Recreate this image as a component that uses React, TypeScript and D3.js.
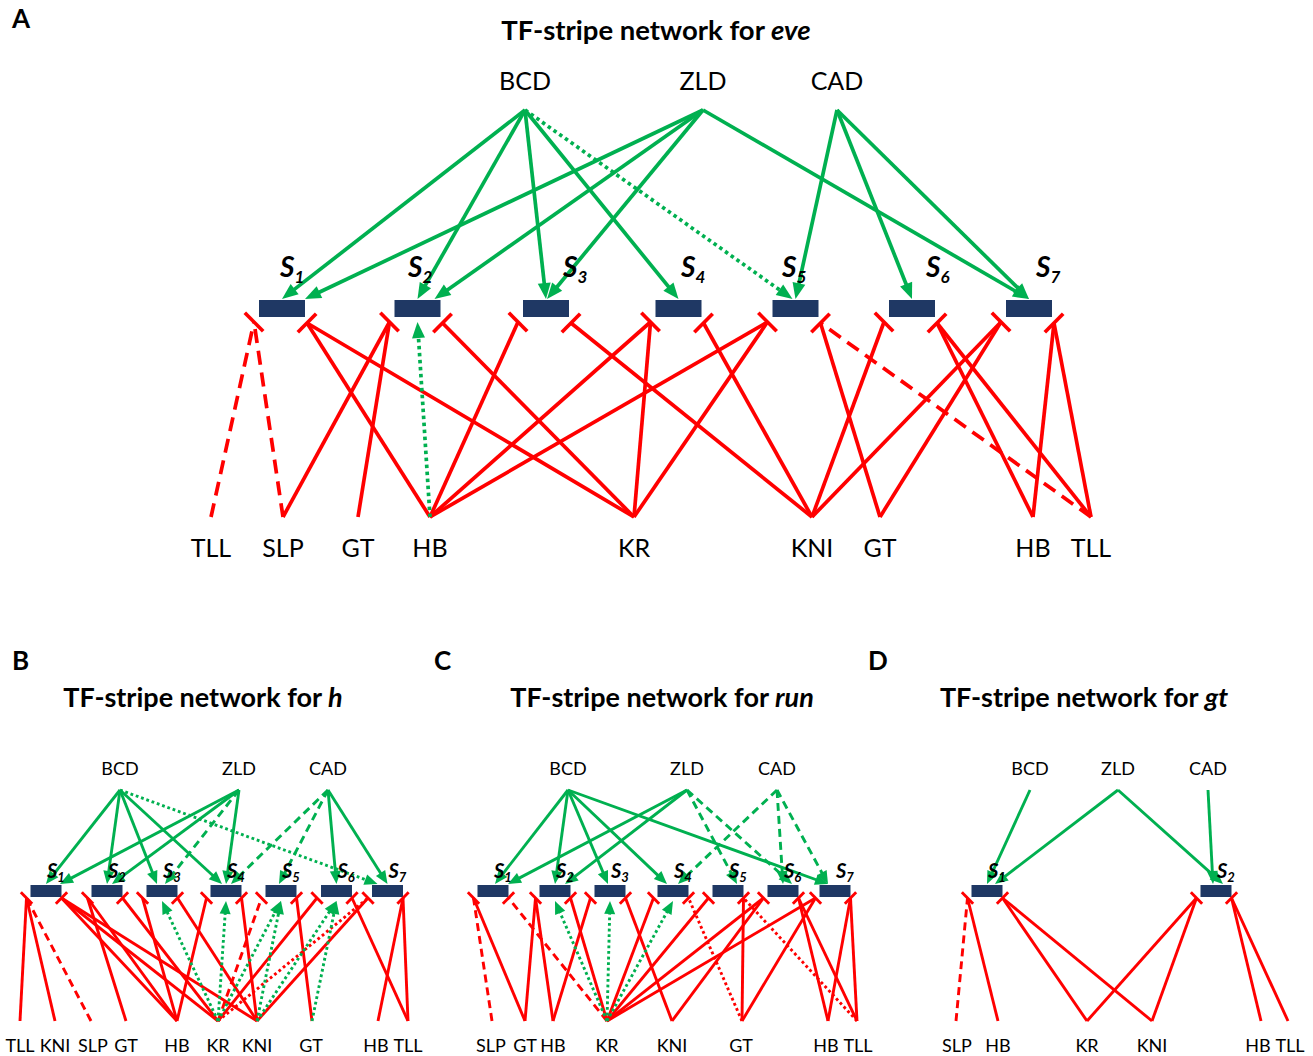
import React from "react";
import * as d3 from "d3";

type Style = "solid" | "dashed" | "dotted";
type Side = "L" | "R";

// ---------- data ----------
const activators = ["BCD", "ZLD", "CAD"];

// A: eve
const eveStripes = [1, 2, 3, 4, 5, 6, 7];
const eveRepressors = ["TLL", "SLP", "GT", "HB", "KR", "KNI", "GT", "HB", "TLL"];
const eveActivation: [string, number, Style][] = [
  ["BCD", 1, "solid"], ["BCD", 2, "solid"], ["BCD", 3, "solid"], ["BCD", 4, "solid"], ["BCD", 5, "dotted"],
  ["ZLD", 1, "solid"], ["ZLD", 2, "solid"], ["ZLD", 3, "solid"], ["ZLD", 7, "solid"],
  ["CAD", 5, "solid"], ["CAD", 6, "solid"], ["CAD", 7, "solid"],
];
// [repressor index, stripe, side of stripe, style]
const eveRepression: [number, number, Side, Style][] = [
  [0, 1, "L", "dashed"], [1, 1, "L", "dashed"], [1, 2, "L", "solid"], [2, 2, "L", "solid"],
  [3, 1, "R", "solid"], [3, 3, "L", "solid"], [3, 4, "L", "solid"], [3, 5, "L", "solid"],
  [4, 1, "R", "solid"], [4, 2, "R", "solid"], [4, 4, "L", "solid"], [4, 5, "L", "solid"],
  [5, 3, "R", "solid"], [5, 4, "R", "solid"], [5, 6, "L", "solid"], [5, 7, "L", "solid"],
  [6, 5, "R", "solid"], [6, 7, "L", "solid"],
  [7, 6, "R", "solid"], [7, 7, "R", "solid"],
  [8, 6, "R", "solid"], [8, 7, "R", "solid"], [8, 5, "R", "dashed"],
];
// green arrows coming from below: [repressor index, stripe, style]
const eveUpActivation: [number, number, Style][] = [[3, 2, "dotted"]];

// B: h
const hStripes = [1, 2, 3, 4, 5, 6, 7];
const hRepressors = ["TLL", "KNI", "SLP", "GT", "HB", "KR", "KNI", "GT", "HB", "TLL"];
const hActivation: [string, number, Style][] = [
  ["BCD", 1, "solid"], ["BCD", 2, "solid"], ["BCD", 3, "solid"], ["BCD", 4, "solid"], ["BCD", 7, "dotted"],
  ["ZLD", 1, "solid"], ["ZLD", 2, "solid"], ["ZLD", 3, "dashed"], ["ZLD", 4, "solid"],
  ["CAD", 4, "dashed"], ["CAD", 5, "dashed"], ["CAD", 6, "solid"], ["CAD", 7, "solid"],
];
const hRepression: [number, number, Side, Style][] = [
  [0, 1, "L", "solid"], [1, 1, "L", "solid"], [2, 1, "L", "dashed"],
  [4, 1, "R", "solid"], [5, 1, "R", "solid"], [6, 1, "R", "solid"],
  [3, 2, "L", "solid"], [4, 2, "L", "solid"], [5, 2, "R", "solid"],
  [4, 3, "L", "solid"], [6, 3, "R", "solid"],
  [4, 4, "L", "solid"], [6, 4, "R", "solid"],
  [5, 5, "L", "dashed"], [7, 5, "R", "solid"],
  [5, 6, "L", "solid"], [9, 6, "R", "solid"],
  [6, 7, "L", "solid"], [5, 7, "L", "dotted"], [8, 7, "R", "solid"], [9, 7, "R", "solid"],
];
const hUpActivation: [number, number, Style][] = [
  [5, 3, "dotted"], [5, 4, "dotted"], [5, 5, "dotted"], [6, 5, "dotted"], [6, 6, "dotted"], [7, 6, "dotted"],
];

// C: run
const runStripes = [1, 2, 3, 4, 5, 6, 7];
const runRepressors = ["SLP", "GT", "HB", "KR", "KNI", "GT", "HB", "TLL"];
const runActivation: [string, number, Style][] = [
  ["BCD", 1, "solid"], ["BCD", 2, "solid"], ["BCD", 3, "solid"], ["BCD", 4, "solid"], ["BCD", 7, "solid"],
  ["ZLD", 1, "solid"], ["ZLD", 2, "solid"], ["ZLD", 5, "dashed"], ["ZLD", 6, "dashed"],
  ["CAD", 4, "dashed"], ["CAD", 6, "dashed"], ["CAD", 7, "dashed"],
];
const runRepression: [number, number, Side, Style][] = [
  [0, 1, "L", "dashed"], [1, 1, "L", "solid"], [3, 1, "R", "dashed"],
  [1, 2, "L", "solid"], [2, 2, "L", "solid"], [3, 2, "R", "solid"],
  [2, 3, "L", "solid"], [4, 3, "R", "solid"],
  [3, 4, "L", "solid"], [5, 4, "R", "dotted"],
  [3, 5, "L", "solid"], [5, 5, "R", "solid"], [7, 5, "R", "dotted"],
  [3, 6, "L", "solid"], [4, 6, "L", "solid"], [6, 6, "R", "solid"], [7, 6, "R", "solid"],
  [3, 7, "L", "solid"], [5, 7, "L", "solid"], [6, 7, "R", "solid"], [7, 7, "R", "solid"],
];
const runUpActivation: [number, number, Style][] = [[3, 2, "dotted"], [3, 3, "dotted"], [3, 4, "dotted"]];

// D: gt
const gtStripes = [1, 2];
const gtRepressors = ["SLP", "HB", "KR", "KNI", "HB", "TLL"];
const gtActivation: [string, number, Style][] = [
  ["BCD", 1, "solid"], ["ZLD", 1, "solid"], ["ZLD", 2, "solid"], ["CAD", 2, "solid"],
];
const gtRepression: [number, number, Side, Style][] = [
  [0, 1, "L", "dashed"], [1, 1, "L", "solid"], [2, 1, "R", "solid"], [3, 1, "R", "solid"],
  [2, 2, "L", "solid"], [3, 2, "L", "solid"], [4, 2, "R", "solid"], [5, 2, "R", "solid"],
];
const gtUpActivation: [number, number, Style][] = [];

// ---------- layout ----------
const big = {
  actY: 110, actLabelY: 90, actFont: 25,
  boxTop: 300, boxW: 46, boxH: 17,
  sY: 277, sFont: 28, subFont: 17, subDy: 6,
  botY: 517, botLabelY: 557, labelFont: 25,
  lw: 3.7, barLen: 26, anchorL: [-5, 5], anchorR: [2, 6],
  arrowLen: 16, arrowW: 13, upGap: 5, dashed: "14 8", dotted: "3.5 3.5",
};
const small = {
  actY: 790, actLabelY: 774.5, actFont: 18,
  boxTop: 885, boxW: 31, boxH: 12,
  sY: 878, sFont: 20, subFont: 13, subDy: 4,
  botY: 1021, botLabelY: 1052, labelFont: 18,
  lw: 2.9, barLen: 16, anchorL: [-4, 1], anchorR: [0, 1],
  arrowLen: 13, arrowW: 11, upGap: 4, dashed: "8 5", dotted: "2.8 2.8",
};

const panels = [
  {
    letter: "A", letterX: 12, letterY: 28, title: "TF-stripe network for ", gene: "eve", titleX: 656, titleY: 40, titleFont: 27.5,
    g: big, actX: [525, 703, 837],
    stripeX: [282, 417.5, 546, 678.5, 795.5, 912, 1029], sDx: [-2, -9.5, 17, 2.5, -13.5, 14, 7],
    botX: [211, 283, 358, 430, 634, 812, 880, 1033, 1091],
    botLabelX: [211, 283, 358, 430, 634, 812, 880, 1033, 1091],
    tipDx: { "ZLD-1": 23, "ZLD-2": 17, "BCD-5": -3, "ZLD-3": 1 } as Record<string, number>,
    stripes: eveStripes, repressors: eveRepressors, activation: eveActivation, repression: eveRepression, up: eveUpActivation,
  },
  {
    letter: "B", letterX: 12, letterY: 670, title: "TF-stripe network for ", gene: "h", titleX: 203, titleY: 707, titleFont: 27,
    g: small, actX: [120, 239, 328],
    stripeX: [46, 107, 162, 226, 281, 336.5, 387.5], sDx: [1, 1, 1, 1, 1, 1, 1],
    botX: [20, 55, 91, 126, 177, 218, 257, 312, 378, 408],
    botLabelX: [20, 55, 93, 126, 177, 218, 257, 311, 376, 408],
    tipDx: { "BCD-3": -5, "BCD-4": -4, "BCD-7": -10, "ZLD-1": 14, "ZLD-2": 5, "ZLD-3": 3, "CAD-4": 5, "CAD-5": -2 } as Record<string, number>,
    stripes: hStripes, repressors: hRepressors, activation: hActivation, repression: hRepression, up: hUpActivation,
  },
  {
    letter: "C", letterX: 434, letterY: 670, title: "TF-stripe network for ", gene: "run", titleX: 662, titleY: 707, titleFont: 27,
    g: small, actX: [568, 687, 777],
    stripeX: [493, 555, 610, 673, 728, 783, 835], sDx: [1, 1, 1, 1, 1, 1, 1],
    botX: [492, 525, 553, 607, 672, 742, 828, 857],
    botLabelX: [491, 525, 553, 607, 672, 741, 826, 858],
    tipDx: { "BCD-1": 2, "BCD-3": -2, "BCD-4": -6, "BCD-7": -7, "ZLD-1": 15, "ZLD-2": 10, "ZLD-5": 9, "ZLD-6": 9, "CAD-4": 5, "CAD-7": -7 } as Record<string, number>,
    stripes: runStripes, repressors: runRepressors, activation: runActivation, repression: runRepression, up: runUpActivation,
  },
  {
    letter: "D", letterX: 868, letterY: 670, title: "TF-stripe network for ", gene: "gt", titleX: 1084, titleY: 707, titleFont: 27,
    g: small, actX: [1030, 1118, 1208],
    stripeX: [987, 1216], sDx: [1, 1],
    botX: [956, 998, 1087, 1152, 1261, 1288],
    botLabelX: [957, 998, 1087, 1152, 1258, 1290],
    tipDx: { "ZLD-1": 8, "ZLD-2": 7, "CAD-2": -3 } as Record<string, number>,
    stripes: gtStripes, repressors: gtRepressors, activation: gtActivation, repression: gtRepression, up: gtUpActivation,
  },
];

const RED = "#FF0000";
const GREEN = "#00B050";
const NAVY = "#1F3864";
const FONT = "Lato, 'Liberation Sans', Arial, sans-serif";

const polygon = d3.line<[number, number]>();

// line that stops at the base of a triangular arrowhead
function arrowGeom(x1: number, y1: number, x2: number, y2: number, len: number, wid: number) {
  const a = Math.atan2(y2 - y1, x2 - x1);
  const bx = x2 - len * Math.cos(a);
  const by = y2 - len * Math.sin(a);
  const px = (-Math.sin(a) * wid) / 2;
  const py = (Math.cos(a) * wid) / 2;
  const head = polygon([[x2, y2], [bx + px, by + py], [bx - px, by - py]]) + "Z";
  return { bx: x2 - (len - 2) * Math.cos(a), by: y2 - (len - 2) * Math.sin(a), head };
}

function Network({ p }: { p: (typeof panels)[number] }) {
  const g = p.g;
  const dash = d3.scaleOrdinal<string, string>().domain(["solid", "dashed", "dotted"]).range(["none", g.dashed, g.dotted]);
  const x = d3.scaleLinear().domain([0, 1313]).range([0, 1313]);
  const actIndex = d3.scaleOrdinal<string, number>().domain(activators).range([0, 1, 2]);
  const boxL = (s: number) => x(p.stripeX[s - 1]) - g.boxW / 2;
  const boxBottom = g.boxTop + g.boxH;
  const anchor = (s: number, side: Side): [number, number] =>
    side === "L"
      ? [boxL(s) + g.anchorL[0], boxBottom + g.anchorL[1]]
      : [boxL(s) + g.boxW + g.anchorR[0], boxBottom + g.anchorR[1]];
  const barAnchors = Array.from(new Set(p.repression.map((r) => `${r[1]}${r[2]}`)));
  const d = g.barLen / 2 / Math.SQRT2;

  return (
    <g>
      <text x={p.letterX} y={p.letterY} fontFamily={FONT} fontWeight="bold" fontSize={26}>{p.letter}</text>
      <text x={p.titleX} y={p.titleY} fontFamily={FONT} fontWeight="bold" fontSize={p.titleFont} textAnchor="middle">
        {p.title}<tspan fontStyle="italic">{p.gene}</tspan>
      </text>

      {p.stripes.map((s) => (
        <rect key={"b" + s} x={boxL(s)} y={g.boxTop} width={g.boxW} height={g.boxH} fill={NAVY} />
      ))}

      {p.repression.map(([ri, s, side, st], i) => {
        const [ax, ay] = anchor(s, side);
        return (
          <line key={"r" + i} x1={x(p.botX[ri])} y1={g.botY} x2={ax} y2={ay}
            stroke={RED} strokeWidth={g.lw} strokeDasharray={dash(st)} />
        );
      })}
      {barAnchors.map((k) => {
        const s = +k.slice(0, -1);
        const side = k.slice(-1) as Side;
        const [ax, ay] = anchor(s, side);
        const sy = side === "L" ? 1 : -1;
        return (
          <line key={"t" + k} x1={ax - d} y1={ay - sy * d} x2={ax + d} y2={ay + sy * d}
            stroke={RED} strokeWidth={g.lw} />
        );
      })}

      {p.up.map(([ri, s, st], i) => {
        const tx = x(p.stripeX[s - 1]);
        const ty = boxBottom + g.upGap;
        const a = arrowGeom(x(p.botX[ri]), g.botY, tx, ty, g.arrowLen, g.arrowW);
        return (
          <g key={"u" + i}>
            <line x1={x(p.botX[ri])} y1={g.botY} x2={a.bx} y2={a.by} stroke={GREEN} strokeWidth={g.lw} strokeDasharray={dash(st)} />
            <path d={a.head} fill={GREEN} />
          </g>
        );
      })}

      {p.activation.map(([src, s, st], i) => {
        const sx = x(p.actX[actIndex(src)]);
        const tx = x(p.stripeX[s - 1]) + (p.tipDx[`${src}-${s}`] ?? 0);
        const ty = g.boxTop - 1;
        const a = arrowGeom(sx, g.actY, tx, ty, g.arrowLen, g.arrowW);
        return (
          <g key={"a" + i}>
            <line x1={sx} y1={g.actY} x2={a.bx} y2={a.by} stroke={GREEN} strokeWidth={g.lw} strokeDasharray={dash(st)} />
            <path d={a.head} fill={GREEN} />
          </g>
        );
      })}

      {activators.map((a, i) => (
        <text key={"al" + a} x={x(p.actX[i])} y={g.actLabelY} fontFamily={FONT} fontSize={g.actFont} textAnchor="middle">{a}</text>
      ))}
      {p.repressors.map((r, i) => (
        <text key={"rl" + i} x={x(p.botLabelX[i])} y={g.botLabelY} fontFamily={FONT} fontSize={g.labelFont} textAnchor="middle">{r}</text>
      ))}
      {p.stripes.map((s) => (
        <text key={"sl" + s} x={x(p.stripeX[s - 1]) + p.sDx[s - 1]} y={g.sY} fontFamily={FONT} fontWeight="bold" fontStyle="italic" fontSize={g.sFont}>
          S<tspan fontSize={g.subFont} dy={g.subDy}>{s}</tspan>
        </text>
      ))}
    </g>
  );
}

export default function App() {
  return (
    <svg width={1313} height={1056} viewBox="0 0 1313 1056"
      style={{ position: "absolute", left: 0, top: 0, background: "#fff" }}>
      {panels.map((p) => (
        <Network key={p.letter} p={p} />
      ))}
    </svg>
  );
}
